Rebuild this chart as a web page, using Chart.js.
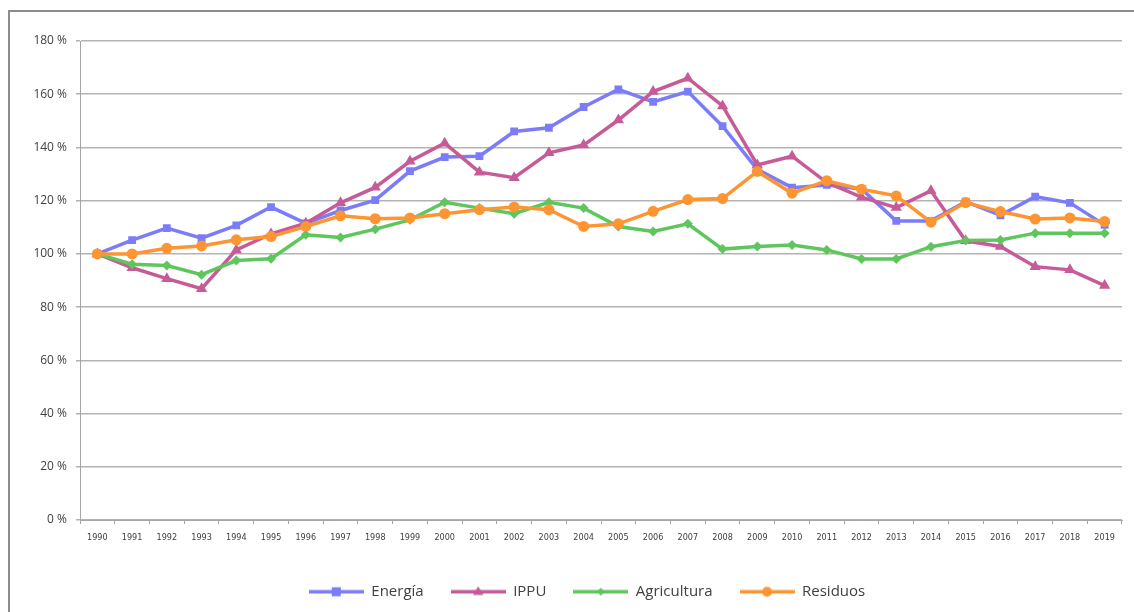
<!DOCTYPE html>
<html>
<head>
<meta charset="utf-8">
<script src="https://cdn.jsdelivr.net/npm/chart.js@4/dist/chart.umd.min.js"></script>
<style>
  html, body { margin: 0; padding: 0; background: #fff; }
  #wrap { width: 1134px; height: 612px; position: relative; }
</style>
</head>
<body>
<div id="wrap"><canvas id="myChart" width="1134" height="612"></canvas></div>
<script>
const years = ["1990", "1991", "1992", "1993", "1994", "1995", "1996", "1997", "1998", "1999",
  "2000", "2001", "2002", "2003", "2004", "2005", "2006", "2007", "2008", "2009",
  "2010", "2011", "2012", "2013", "2014", "2015", "2016", "2017", "2018", "2019"];

const energia = [100, 105.2, 109.7, 105.9, 110.7, 117.6, 111.5, 116.3, 120.2, 131.1,
  136.4, 136.7, 146.0, 147.4, 155.2, 161.8, 157.1, 161.0, 148.0, 131.8,
  124.9, 125.9, 124.4, 112.4, 112.4, 119.6, 114.5, 121.5, 119.2, 110.9];

const ippu = [100, 94.8, 90.7, 86.9, 101.5, 107.5, 111.5, 119.2, 125.0, 134.8,
  141.6, 130.7, 128.6, 138.0, 140.9, 150.3, 161.0, 166.0, 155.6, 133.4,
  136.7, 126.8, 121.3, 117.4, 123.7, 104.9, 102.8, 95.2, 94.0, 88.1];

const agricultura = [100, 96.1, 95.6, 92.2, 97.5, 98.2, 107.2, 106.2, 109.3, 112.8,
  119.4, 117.2, 115.1, 119.4, 117.2, 110.3, 108.4, 111.3, 101.8, 102.8,
  103.3, 101.5, 98.1, 98.1, 102.7, 105.0, 105.2, 107.8, 107.8, 107.8];

const residuos = [100, 100.0, 102.1, 103.0, 105.3, 106.5, 110.3, 114.3, 113.2, 113.5,
  115.1, 116.6, 117.6, 116.6, 110.3, 111.3, 116.0, 120.4, 120.8, 131.0,
  122.8, 127.5, 124.3, 121.8, 111.9, 119.3, 115.9, 113.1, 113.5, 112.2];

const seriesNames = ["Energía", "IPPU", "Agricultura", "Residuos"];
const yTicks = [0, 20, 40, 60, 80, 100, 120, 140, 160, 180];

const COLORS = ["#7b7cf8", "#c65b98", "#5ec65c", "#fc9532"];
const STYLES = ["rect", "triangle", "rectRot", "circle"];
const RADII = [5.5, 6.5, 5, 5.5];
const LEGEND_SHIFT = 26;

function drawMarker(ctx, style, x, y, r, color) {
  ctx.save();
  ctx.fillStyle = color;
  ctx.beginPath();
  if (style === "rect") {
    ctx.rect(x - r, y - r, r * 2, r * 2);
  } else if (style === "triangle") {
    ctx.moveTo(x, y - r);
    ctx.lineTo(x + r * 0.95, y + r * 0.6);
    ctx.lineTo(x - r * 0.95, y + r * 0.6);
    ctx.closePath();
  } else if (style === "rectRot") {
    ctx.moveTo(x, y - r);
    ctx.lineTo(x + r, y);
    ctx.lineTo(x, y + r);
    ctx.lineTo(x - r, y);
    ctx.closePath();
  } else {
    ctx.arc(x, y, r, 0, Math.PI * 2);
  }
  ctx.fill();
  ctx.restore();
}

// legend icon: short line with the series marker in the middle
function legendIcon(i) {
  const c = document.createElement("canvas");
  c.width = 55;
  c.height = 12;
  const g = c.getContext("2d");
  g.fillStyle = COLORS[i];
  g.fillRect(0, 4.5, 55, 3.5);
  const sizes = [4.5, 5.5, 4, 5];
  drawMarker(g, STYLES[i], 27.5, 6.25, sizes[i], COLORS[i]);
  return c;
}
const ICONS = COLORS.map((c, i) => legendIcon(i));

const framePlugin = {
  id: "frame",
  afterUpdate(chart) {
    // the original legend sits a bit right of centre
    const legend = chart.legend;
    if (!legend) return;
    legend.left += LEGEND_SHIFT;
    legend.right += LEGEND_SHIFT;
    legend.adjustHitBoxes();
  },
  beforeDraw(chart) {
    const ctx = chart.ctx;
    ctx.save();
    ctx.strokeStyle = "#8c8c8c";
    ctx.lineWidth = 2;
    ctx.strokeRect(9, 11, 1300, 800);
    ctx.restore();
  },
};

const allSeries = [energia, ippu, agricultura, residuos];

const ctx = document.getElementById("myChart").getContext("2d");
const myChart = new Chart(ctx, {
  type: "line",
  data: {
    labels: years,
    datasets: allSeries.map((values, i) => ({
      label: seriesNames[i],
      data: values,
      borderColor: COLORS[i],
      backgroundColor: COLORS[i],
      borderWidth: 3.5,
      pointStyle: STYLES[i],
      pointRadius: RADII[i],
      pointBorderWidth: 0,
      pointHoverRadius: RADII[i],
      tension: 0,
      order: 4 - i,
    })),
  },
  options: {
    responsive: false,
    animation: false,
    layout: {
      padding: { left: 0, right: 12, top: 41, bottom: 3 },
    },
    plugins: {
      tooltip: { enabled: false },
      legend: {
        position: "bottom",
        labels: {
          usePointStyle: true,
          pointStyleWidth: 55,
          padding: 27,
          color: "#404040",
          font: { family: "'Open Sans', sans-serif", size: 15 },
          sort: (a, b) => a.datasetIndex - b.datasetIndex,
          generateLabels(chart) {
            const items = Chart.defaults.plugins.legend.labels.generateLabels(chart);
            return items.map((it) => Object.assign(it, { pointStyle: ICONS[it.datasetIndex], rotation: 0 }));
          },
        },
      },
    },
    scales: {
      x: {
        offset: true,
        grid: {
          offset: true,
          drawOnChartArea: false,
          drawTicks: true,
          tickLength: 4,
          color: "#a6a6a6",
        },
        border: { color: "#a6a6a6", width: 1 },
        ticks: {
          autoSkip: false,
          maxRotation: 0,
          padding: 8,
          color: "#404040",
          font: { family: "'Liberation Sans Narrow', 'DejaVu Sans Condensed', sans-serif", size: 9 },
        },
        afterFit(scale) { scale.height = 37; },
      },
      y: {
        min: 0,
        max: 180,
        afterBuildTicks(scale) { scale.ticks = yTicks.map((v) => ({ value: v })); },
        grid: {
          color: "#b3b3b3",
          lineWidth: 1.5,
          tickLength: 4,
        },
        border: { color: "#a6a6a6", width: 1 },
        ticks: {
          padding: 9,
          color: "#404040",
          font: { family: "'Open Sans', sans-serif", size: 12 },
          callback: (v) => v + " %",
        },
        afterFit(scale) { scale.width = 80; },
      },
    },
  },
  plugins: [framePlugin],
});
</script>
</body>
</html>
